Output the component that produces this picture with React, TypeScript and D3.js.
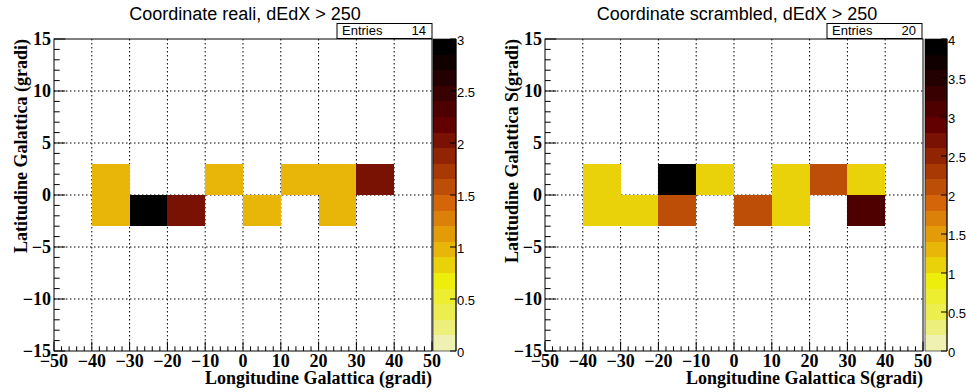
import React, { useEffect, useRef } from 'react';
import * as d3 from 'd3';

// lower edges of the longitude bins (width 10) and latitude bins (width 3)
const xBins = [-40, -30, -20, -10, 0, 10, 20, 30];
const yBins = [0, -3];

// counts per bin, upper row (0..3) and lower row (-3..0)
const realiUpper = [1, 0, 0, 1, 0, 1, 1, 2];
const realiLower = [1, 3, 2, 0, 1, 0, 1, 0];
const scrambledUpper = [1, 0, 4, 1, 0, 1, 2, 1];
const scrambledLower = [1, 1, 2, 0, 2, 1, 0, 3];

const xTicks = [-50, -40, -30, -20, -10, 0, 10, 20, 30, 40, 50];
const yTicks = [-15, -10, -5, 0, 5, 10, 15];

// ROOT kDarkBodyRadiator, inverted
const palStops = [0, 0.125, 0.25, 0.375, 0.5, 0.625, 0.75, 0.875, 1];
const palRed = [0, 45, 99, 156, 212, 230, 237, 234, 242];
const palGreen = [0, 0, 0, 45, 101, 168, 238, 238, 243];
const palBlue = [0, 1, 1, 3, 9, 8, 11, 95, 230];

const NCOL = 255;
const NDIV = 20;

const baseScale = (ch: number[]) => d3.scaleLinear().domain(palStops).range(ch);
const rS = baseScale(palRed), gS = baseScale(palGreen), bS = baseScale(palBlue);
const palette = d3.range(NCOL).map(i => {
  const t = (NCOL - 1 - i) / (NCOL - 1);
  return d3.rgb(Math.round(rS(t)), Math.round(gS(t)), Math.round(bS(t))).formatHex();
});
const bandColor = (band: number) => {
  let c = Math.floor((band + 0.99) * NCOL / NDIV);
  if (c > NCOL - 1) c = NCOL - 1;
  return palette[c];
};

const panels = [
  {
    title: 'Coordinate reali, dEdX > 250',
    titleX: 245,
    xTitle: 'Longitudine Galattica (gradi)',
    yTitle: 'Latitudine Galattica (gradi)',
    yTitleX: 27,
    frame: { x0: 54, x1: 432 },
    bar: { x0: 433, x1: 456 },
    box: { x0: 337, x1: 432 },
    entries: 14,
    zmax: 3,
    rows: [realiUpper, realiLower],
  },
  {
    title: 'Coordinate scrambled, dEdX > 250',
    titleX: 737,
    xTitle: 'Longitudine Galattica S(gradi)',
    yTitle: 'Latitudine Galattica S(gradi)',
    yTitleX: 518,
    frame: { x0: 545, x1: 923 },
    bar: { x0: 925, x1: 947 },
    box: { x0: 827, x1: 922 },
    entries: 20,
    zmax: 4,
    rows: [scrambledUpper, scrambledLower],
  },
];

const TOP = 39;
const BOTTOM = 351;
const serif = "'Liberation Serif', 'Times New Roman', serif";
const sans = "'Liberation Sans', Arial, sans-serif";
const minus = (v: number) => (v < 0 ? '\u2212' + Math.abs(v) : String(v));

const App = () => {
  const svgRef = useRef<SVGSVGElement>(null);

  useEffect(() => {
    const svg = d3.select(svgRef.current);
    svg.selectAll('*').remove();
    svg.append('rect').attr('width', 966).attr('height', 392).attr('fill', 'white');

    panels.forEach(p => {
      const g = svg.append('g');
      const x = d3.scaleLinear().domain([-50, 50]).range([p.frame.x0, p.frame.x1]);
      const y = d3.scaleLinear().domain([-15, 15]).range([BOTTOM, TOP]);

      // grid
      g.selectAll('line.gx')
        .data(xTicks.slice(1, -1))
        .enter().append('line')
        .attr('x1', d => x(d)).attr('x2', d => x(d))
        .attr('y1', TOP).attr('y2', BOTTOM)
        .attr('stroke', 'black').attr('stroke-dasharray', '1.5 2.5');
      g.selectAll('line.gy')
        .data(yTicks.slice(1, -1))
        .enter().append('line')
        .attr('x1', p.frame.x0).attr('x2', p.frame.x1)
        .attr('y1', d => y(d)).attr('y2', d => y(d))
        .attr('stroke', 'black').attr('stroke-dasharray', '1.5 2.5');

      // cells
      const cells: { x: number; y: number; v: number }[] = [];
      p.rows.forEach((row, ri) => row.forEach((v, ci) => {
        if (v > 0) cells.push({ x: xBins[ci], y: yBins[ri], v });
      }));
      const scale = NDIV / p.zmax;
      g.selectAll('rect.cell')
        .data(cells)
        .enter().append('rect')
        .attr('x', d => x(d.x))
        .attr('y', d => y(d.y + 3))
        .attr('width', d => x(d.x + 10) - x(d.x))
        .attr('height', d => y(d.y) - y(d.y + 3))
        .attr('fill', d => bandColor(Math.floor(0.01 + d.v * scale)))
        .attr('shape-rendering', 'crispEdges');

      // frame
      g.append('rect')
        .attr('x', p.frame.x0).attr('y', TOP)
        .attr('width', p.frame.x1 - p.frame.x0).attr('height', BOTTOM - TOP)
        .attr('fill', 'none').attr('stroke', 'black');

      // y ticks
      d3.range(-15, 16, 1).forEach(v => {
        const major = v % 5 === 0;
        g.append('line')
          .attr('x1', p.frame.x0).attr('x2', p.frame.x0 + (major ? 11.3 : 5.7))
          .attr('y1', y(v)).attr('y2', y(v)).attr('stroke', 'black');
      });
      g.selectAll('text.yl')
        .data(yTicks)
        .enter().append('text')
        .attr('x', p.frame.x0 - 3).attr('y', d => y(d))
        .attr('dy', '0.34em')
        .attr('text-anchor', 'end')
        .style('font', `bold 18px ${serif}`)
        .text(d => minus(d));

      // x ticks
      d3.range(-50, 51, 2).forEach(v => {
        const major = v % 10 === 0;
        g.append('line')
          .attr('x1', x(v)).attr('x2', x(v))
          .attr('y1', BOTTOM).attr('y2', BOTTOM - (major ? 9.4 : 4.7)).attr('stroke', 'black');
      });
      g.selectAll('text.xl')
        .data(xTicks)
        .enter().append('text')
        .attr('x', d => x(d)).attr('y', 367)
        .attr('text-anchor', 'middle')
        .style('font', `bold 18px ${serif}`)
        .text(d => minus(d));

      // axis titles
      g.append('text')
        .attr('x', p.frame.x1).attr('y', 384)
        .attr('text-anchor', 'end')
        .style('font', `bold 18px ${serif}`)
        .text(p.xTitle);
      g.append('text')
        .attr('transform', `translate(${p.yTitleX},${TOP}) rotate(-90)`)
        .attr('text-anchor', 'end')
        .style('font', `bold 18px ${serif}`)
        .text(p.yTitle);

      // title
      g.append('text')
        .attr('x', p.titleX).attr('y', 20)
        .attr('text-anchor', 'middle')
        .style('font', `18px ${sans}`)
        .text(p.title);

      // stats box
      g.append('rect')
        .attr('x', p.box.x0).attr('y', 23.5)
        .attr('width', p.box.x1 - p.box.x0).attr('height', 15)
        .attr('fill', 'white').attr('stroke', 'black');
      g.append('text')
        .attr('x', p.box.x0 + 5).attr('y', 35)
        .style('font', `13px ${sans}`)
        .text('Entries');
      g.append('text')
        .attr('x', p.box.x1 - 6).attr('y', 35)
        .attr('text-anchor', 'end')
        .style('font', `13px ${sans}`)
        .text(p.entries);

      // palette
      const z = d3.scaleLinear().domain([0, p.zmax]).range([BOTTOM, TOP]);
      g.selectAll('rect.band')
        .data(d3.range(NDIV))
        .enter().append('rect')
        .attr('x', p.bar.x0).attr('width', p.bar.x1 - p.bar.x0)
        .attr('y', d => z((d + 1) * p.zmax / NDIV))
        .attr('height', d => z(d * p.zmax / NDIV) - z((d + 1) * p.zmax / NDIV))
        .attr('fill', d => bandColor(d))
        .attr('shape-rendering', 'crispEdges');
      g.append('rect')
        .attr('x', p.bar.x0).attr('y', TOP)
        .attr('width', p.bar.x1 - p.bar.x0).attr('height', BOTTOM - TOP)
        .attr('fill', 'none').attr('stroke', 'black').attr('stroke-width', 0.6);
      const zTicks = d3.range(0, p.zmax + 0.01, 0.5);
      g.selectAll('line.zt')
        .data(zTicks)
        .enter().append('line')
        .attr('x1', p.bar.x1 - 6).attr('x2', p.bar.x1)
        .attr('y1', d => z(d)).attr('y2', d => z(d))
        .attr('stroke', 'black');
      g.append('line')
        .attr('x1', p.bar.x1).attr('x2', p.bar.x1)
        .attr('y1', TOP).attr('y2', BOTTOM).attr('stroke', 'black');
      g.selectAll('text.zl')
        .data(zTicks)
        .enter().append('text')
        .attr('x', p.bar.x1 + 1).attr('y', d => z(d))
        .attr('dy', '0.45em')
        .style('font', `13px ${sans}`)
        .text(d => String(d));
    });
  }, []);

  return (
    <svg
      ref={svgRef}
      width={966}
      height={392}
      style={{ position: 'absolute', left: 0, top: 0 }}
    />
  );
};

export default App;
